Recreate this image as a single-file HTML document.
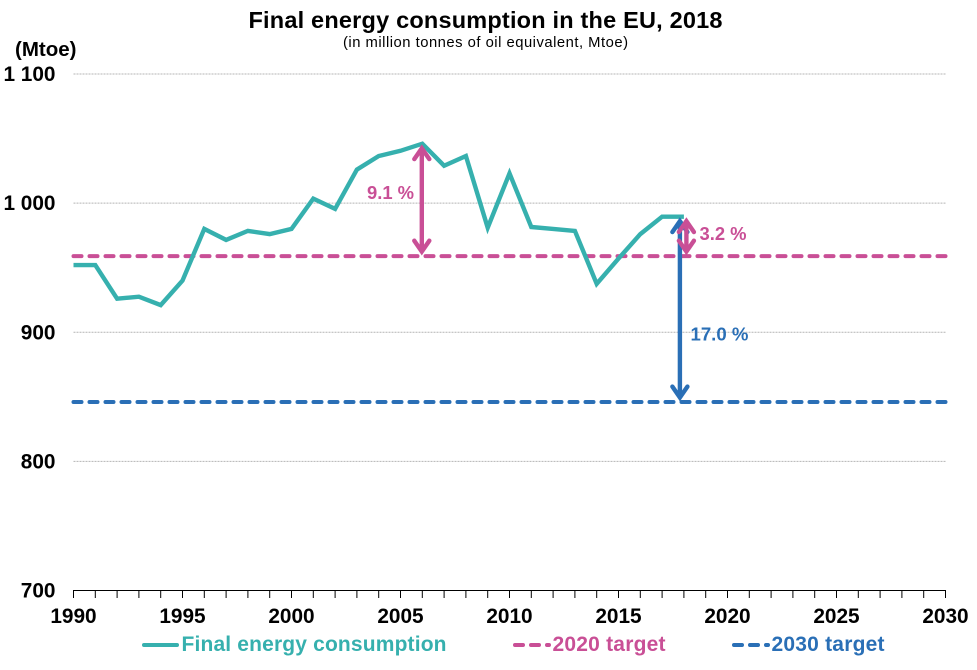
<!DOCTYPE html>
<html lang="en">
<head>
<meta charset="utf-8">
<title>Final energy consumption in the EU, 2018</title>
<style>
html,body{margin:0;padding:0;background:#fff;}
#chart{display:block;width:977px;height:670px;font-family:"Liberation Sans",Arial,sans-serif;}
text{font-family:"Liberation Sans",Arial,sans-serif;}
</style>
</head>
<body>
<svg id="chart" xmlns="http://www.w3.org/2000/svg" width="977" height="670" viewBox="0 0 977 670">
  <rect x="0" y="0" width="977" height="670" fill="#ffffff"/>
  <text x="485.5" y="28" text-anchor="middle" font-size="23.5" font-weight="700" fill="#000" textLength="474" lengthAdjust="spacing">Final energy consumption in the EU, 2018</text>
  <text x="485.5" y="47" text-anchor="middle" font-size="14.8" fill="#000" textLength="285" lengthAdjust="spacing">(in million tonnes of oil equivalent, Mtoe)</text>
  <text x="15" y="56" font-size="20.5" font-weight="700" fill="#000">(Mtoe)</text>
  <g id="grid"></g>
  <g id="axes"></g>
  <g id="targets"></g>
  <g id="series"></g>
  <g id="arrows"></g>
  <g id="legend">
    <g>
      <line x1="144" y1="645" x2="177" y2="645" stroke="#36b0ae" stroke-width="4" stroke-linecap="round"/>
      <text x="181.5" y="651" font-size="21" font-weight="700" fill="#36b0ae" textLength="265" lengthAdjust="spacing">Final energy consumption</text>
    </g>
    <g>
      <line x1="515" y1="645" x2="549" y2="645" stroke="#c94f96" stroke-width="4" stroke-linecap="round" stroke-dasharray="8 8"/>
      <text x="552.5" y="651" font-size="21" font-weight="700" fill="#c94f96" textLength="113" lengthAdjust="spacing">2020 target</text>
    </g>
    <g>
      <line x1="734" y1="645" x2="768" y2="645" stroke="#2a6fb6" stroke-width="4" stroke-linecap="round" stroke-dasharray="8 8"/>
      <text x="771.5" y="651" font-size="21" font-weight="700" fill="#2a6fb6" textLength="113" lengthAdjust="spacing">2030 target</text>
    </g>
  </g>
</svg>
<script>
var years = [1990,1991,1992,1993,1994,1995,1996,1997,1998,1999,2000,2001,2002,2003,2004,2005,2006,2007,2008,2009,2010,2011,2012,2013,2014,2015,2016,2017,2018];
var consumption = [952,952,926,927.5,921,940,980,971.5,978.5,976,980,1003.5,995.5,1026,1036.5,1040.5,1046,1029,1036.5,981,1023,981.5,980,978.5,937.5,957,976,989.5,989.5];
var target2020 = [959];
var target2030 = [846];
var yTicks = [700,800,900,1000,1100];
var yTickLabels = ['700','800','900','1 000','1 100'];
var xTickLabels = [1990,1995,2000,2005,2010,2015,2020,2025,2030];
var gapLabels = ['9.1 %','3.2 %','17.0 %'];
var gapYears = [2006,2018,2018];

var NS = 'http://www.w3.org/2000/svg';
var COLOR_LINE = '#36b0ae', COLOR_2020 = '#c94f96', COLOR_2030 = '#2a6fb6';

function xScale(year){ return 73.5 + (year - 1990) * (945.5 - 73.5) / 40; }
function yScale(v){ return 590.5 - (v - 700) * (590.5 - 74) / 400; }

function mk(tag, parent, attrs){
  var el = document.createElementNS(NS, tag);
  for (var k in attrs) { el.setAttribute(k, attrs[k]); }
  parent.appendChild(el);
  return el;
}

var gridG = document.getElementById('grid');
var axesG = document.getElementById('axes');
var targetsG = document.getElementById('targets');
var seriesG = document.getElementById('series');
var arrowsG = document.getElementById('arrows');

yTicks.forEach(function(v, i){
  var y = yScale(v);
  if (v > 700) {
    var g = mk('line', gridG, {x1:73.5, x2:945.5, y1:y, y2:y, stroke:'#b4b4b4', 'stroke-width':1, 'stroke-dasharray':'2 1'});
    
    
  }
  var t = mk('text', axesG, {x:55.5, y:y + 7, 'text-anchor':'end', 'font-size':20.8, 'font-weight':700, fill:'#000'});
  t.textContent = yTickLabels[i];
  
  
});

var baseY = yScale(700);
var axisLine = mk('line', axesG, {x1:73, x2:946, y1:baseY, y2:baseY, stroke:'#000', 'stroke-width':1});



for (var yr = 1990; yr <= 2030; yr++) {
  var tick = mk('line', axesG, {x1:xScale(yr), x2:xScale(yr), y1:baseY, y2:baseY + 7.5, stroke:'#000', 'stroke-width':1});
  
  
}
xTickLabels.forEach(function(yr){
  var t = mk('text', axesG, {x:xScale(yr), y:623, 'text-anchor':'middle', 'font-size':20.8, 'font-weight':700, fill:'#000'});
  t.textContent = yr;
  
  
});

var t20 = mk('line', targetsG, {x1:73.5, x2:945.5, y1:yScale(target2020[0]), y2:yScale(target2020[0]), stroke:COLOR_2020, 'stroke-width':4, 'stroke-linecap':'round', 'stroke-dasharray':'8 8'});


var t30 = mk('line', targetsG, {x1:73.5, x2:945.5, y1:yScale(target2030[0]), y2:yScale(target2030[0]), stroke:COLOR_2030, 'stroke-width':4, 'stroke-linecap':'round', 'stroke-dasharray':'8 8'});



var pts = years.map(function(yr, i){ return xScale(yr).toFixed(1) + ',' + yScale(consumption[i]).toFixed(1); }).join(' ');
var sLine = mk('polyline', seriesG, {points:pts, fill:'none', stroke:COLOR_LINE, 'stroke-width':4.4, 'stroke-linejoin':'miter'});



function arrow(x, v1, v2, color, name, head){
  var y1 = yScale(v1) + 4.5, y2 = yScale(v2) - 4.5;
  var d = 'M' + x + ' ' + y1 + 'L' + x + ' ' + y2 +
    'M' + (x - head) + ' ' + (y1 + head * 1.45) + 'L' + x + ' ' + y1 + 'L' + (x + head) + ' ' + (y1 + head * 1.45) +
    'M' + (x - head) + ' ' + (y2 - head * 1.45) + 'L' + x + ' ' + y2 + 'L' + (x + head) + ' ' + (y2 - head * 1.45);
  var p = mk('path', arrowsG, {d:d, fill:'none', stroke:color, 'stroke-width':4.4, 'stroke-linecap':'round', 'stroke-linejoin':'miter'});
  
  
}
function valueAt(year){ return consumption[years.indexOf(year)]; }

arrow(xScale(gapYears[2]) - 4, valueAt(gapYears[2]), target2030[0], COLOR_2030, 'gap-arrow-2030', 7.5);
arrow(xScale(gapYears[1]) + 2.5, valueAt(gapYears[1]), target2020[0], COLOR_2020, 'gap-arrow-2020-2018', 7.5);
arrow(xScale(gapYears[0]) - 0.5, valueAt(gapYears[0]), target2020[0], COLOR_2020, 'gap-arrow-2020-2006', 7.5);

var l1 = mk('text', arrowsG, {x:367, y:199, 'font-size':18.4, 'font-weight':700, fill:COLOR_2020});
l1.textContent = gapLabels[0];


var l2 = mk('text', arrowsG, {x:699.5, y:240, 'font-size':18.4, 'font-weight':700, fill:COLOR_2020});
l2.textContent = gapLabels[1];


var l3 = mk('text', arrowsG, {x:690.5, y:340.5, 'font-size':18.6, 'font-weight':700, fill:COLOR_2030});
l3.textContent = gapLabels[2];


</script>
</body>
</html>
